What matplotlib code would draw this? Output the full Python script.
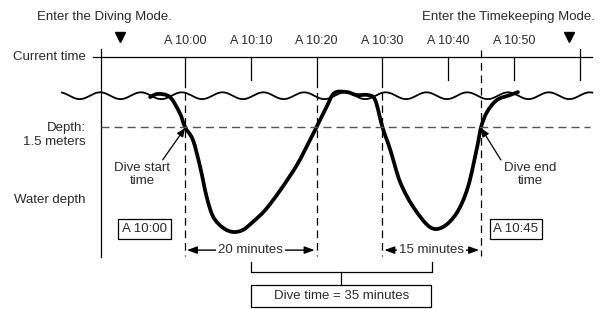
import matplotlib
matplotlib.use("Agg")
import matplotlib.pyplot as plt
from matplotlib.transforms import Affine2D
from matplotlib.patches import Rectangle, PathPatch
from matplotlib.path import Path
import numpy as np

# x: minutes after 10:00, y: water depth in meters
tick_minutes = [0, 10, 20, 30, 40, 50, 60]
tick_labels = ["A 10:00", "A 10:10", "A 10:20", "A 10:30", "A 10:40", "A 10:50", ""]
axis_start = -12.8
dive_enter, dive_exit = -9.9, 58.4
dive_marks = [0, 20, 30, 45]
trigger_depth = 1.5
leg_start = [0, 30]
leg_minutes = [20, 15]
leg_labels = ["20 minutes", "15 minutes"]
dive_total = "Dive time = 35 minutes"
start_label, end_label = "A 10:00", "A 10:45"

profile_t = [-5.3, -4.1, -2.3, -0.8, 0.0, 1.2, 2.3, 3.3, 4.3, 5.8, 7.3, 8.8,
             10.3, 12.2, 14.4, 17.0, 19.0, 20.0, 21.5, 22.7, 24.6, 26.1, 27.8,
             28.9, 30.0, 31.2, 32.7, 34.7, 37.2, 39.2, 41.3, 43.0, 44.4, 45.0,
             45.9, 47.4, 49.4, 50.6]
profile_d = [0.18, 0.04, 0.18, 0.88, 1.5, 2.07, 3.26, 4.59, 5.47, 5.95, 6.13, 6.04,
             5.69, 5.16, 4.32, 3.18, 2.07, 1.5, 0.62, 0.0, -0.04, 0.09, 0.09,
             0.31, 1.5, 2.51, 3.93, 5.03, 5.91, 5.91, 5.29, 4.15, 2.38, 1.5,
             0.84, 0.31, 0.09, -0.04]

W, H = 607, 309
plt.rcParams["font.family"] = ["Liberation Sans", "DejaVu Sans"]
plt.rcParams["lines.scale_dashes"] = False
txt = "#2a2a2a"


def smooth_path(xs, ys):
    # Catmull-Rom through the points, written as cubic Bezier segments
    p = np.column_stack([xs, ys])
    p = np.vstack([p[0], p, p[-1]])
    verts = [p[1]]
    codes = [Path.MOVETO]
    for i in range(1, len(p) - 2):
        c1 = p[i] + (p[i + 1] - p[i - 1]) / 6
        c2 = p[i + 1] - (p[i + 2] - p[i]) / 6
        verts += [c1, c2, p[i + 1]]
        codes += [Path.CURVE4] * 3
    return Path(verts, codes)


fig = plt.figure(figsize=(W / 100, H / 100), dpi=100)
ax = fig.add_axes([0, 0, 1, 1])
ax.set_xlim(-185 / 6.58, (W - 185) / 6.58)
ax.set_ylim((H - 93) / 22.67, -93 / 22.67)
ax.axis("off")
px = Affine2D().scale(1 / W, -1 / H).translate(0, 1) + fig.transFigure

clock_y = -1.59
tick_bot = -0.57
dash_bot = 7.2

# clock line and ticks
ax.plot([-14.0, 61.9], [clock_y, clock_y], color="black", lw=0.9)
ax.plot([axis_start, axis_start], [-1.94, 7.25], color="black", lw=0.9)
for t, lab in zip(tick_minutes, tick_labels):
    top = -1.94 if t == 60 else clock_y
    ax.plot([t, t], [top, tick_bot], color="black", lw=0.9)
    ax.text(t, -2.3, lab, ha="center", va="center", fontsize=9, color=txt)
ax.plot([dive_enter, dive_exit], [-2.47, -2.47], "v", color="black", ms=7)

for t in dive_marks:
    top = -1.9 if t not in tick_minutes else tick_bot
    ax.plot([t, t], [top, dash_bot], color="black", lw=0.9, dashes=(5.5, 3.5))

# water surface
wx = np.linspace(-18.7, 61.9, 800)
ax.plot(wx, -0.15 * np.cos(2 * np.pi * (wx + 12.9) / 6.2) + 0.12,
        color="black", lw=1.3)

# trigger depth
ax.plot([axis_start, 61.5], [trigger_depth, trigger_depth], color="#555555",
        lw=1.0, dashes=(5.8, 3.6))

# dive profile
ax.add_patch(PathPatch(smooth_path(profile_t, profile_d), fc="none", ec="black",
                       lw=2.7, joinstyle="round", capstyle="round"))

# left labels
ax.text(86, 57, "Current time", transform=px, ha="right", va="center",
        fontsize=9.5, color=txt)
ax.text(86, 135, "Depth:\n1.5 meters", transform=px, ha="right", va="center",
        multialignment="right", fontsize=9.5, color=txt, linespacing=1.15)
ax.text(86, 200, "Water depth", transform=px, ha="right", va="center",
        fontsize=9.5, color=txt)
ax.text(104, 17, "Enter the Diving Mode.", transform=px, ha="center",
        va="center", fontsize=9.5, color=txt)
ax.text(508, 17, "Enter the Timekeeping Mode.", transform=px, ha="center",
        va="center", fontsize=9.5, color=txt)

# start / end callouts
for t, tx, lab, box, bx in [(0, -6.5, "Dive start\ntime", start_label, -6.2),
                             (45, 52.5, "Dive end\ntime", end_label, 50.3)]:
    ax.text(tx, 3.6, lab, ha="center", va="center", fontsize=9.5, color=txt,
            linespacing=1.15)
    sx = -3.4 if t == 0 else 48.0
    ax.annotate("", xy=(t, trigger_depth + 0.05), xytext=(sx, 2.95),
                arrowprops=dict(arrowstyle="-|>,head_length=0.5,head_width=0.22",
                                color="black", lw=0.9, shrinkA=0, shrinkB=0))
    ax.text(bx, 6.0, box, ha="center", va="center", fontsize=9.5, color=txt,
            bbox=dict(boxstyle="square,pad=0.3", fc="white", ec="black", lw=0.9))

# leg durations
leg_y = 6.93
for s, m, lab in zip(leg_start, leg_minutes, leg_labels):
    ax.annotate("", xy=(s + 0.3, leg_y), xytext=(s + m - 0.3, leg_y),
                arrowprops=dict(arrowstyle="<|-|>,head_length=0.6,head_width=0.22",
                                color="black", lw=1.0, shrinkA=0, shrinkB=0))
    ax.text(s + m / 2, leg_y, lab, ha="center", va="center", fontsize=9.5,
            color=txt, bbox=dict(boxstyle="square,pad=0.15", fc="white", ec="none"))

# bracket and total
c1 = leg_start[0] + leg_minutes[0] / 2
c2 = leg_start[1] + leg_minutes[1] / 2
mid = (c1 + c2) / 2
ax.plot([c1, c1, c2, c2], [7.45, 7.9, 7.9, 7.45], color="black", lw=0.9)
ax.plot([mid, mid], [7.9, 8.47], color="black", lw=0.9)
ax.add_patch(Rectangle((mid - 13.7, 8.47), 27.4, 0.98, fc="white", ec="black",
                       lw=0.9))
ax.text(mid, 8.97, dive_total, ha="center", va="center", fontsize=9.5, color=txt)

fig.savefig("out.png", dpi=100)
